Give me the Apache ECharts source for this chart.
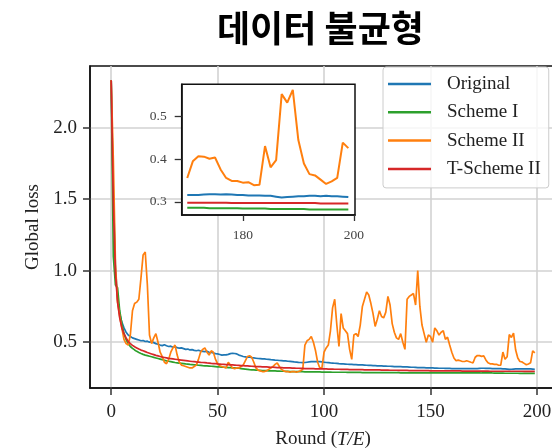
<!DOCTYPE html>
<html>
<head>
<meta charset="utf-8">
<script src="https://cdn.jsdelivr.net/npm/echarts@6/dist/echarts.min.js"></script>
<style>
  html, body { margin: 0; padding: 0; background: #fff; }
  #chart { width: 552px; height: 448px; }
</style>
</head>
<body>
<div id="chart"></div>
<script>
// Global loss per round (index = round number, 0..199)
const original = [
  2.33, 1.55, 1.02, 0.80, 0.70, 0.64, 0.60, 0.57, 0.55, 0.54,
  0.53, 0.525, 0.52, 0.515, 0.51, 0.512, 0.505, 0.507, 0.50, 0.503,
  0.497, 0.49, 0.486, 0.48, 0.476, 0.482, 0.475, 0.47, 0.472, 0.465,
  0.468, 0.462, 0.458, 0.46, 0.455, 0.45, 0.452, 0.446, 0.448, 0.443,
  0.44, 0.444, 0.438, 0.436, 0.434, 0.437, 0.43, 0.428, 0.425, 0.42,
  0.418, 0.414, 0.41, 0.412, 0.411, 0.415, 0.42, 0.423, 0.421, 0.418,
  0.41, 0.405, 0.40, 0.398, 0.395, 0.397, 0.392, 0.39, 0.388, 0.386,
  0.385, 0.383, 0.384, 0.381, 0.38, 0.378, 0.377, 0.375, 0.374, 0.372,
  0.371, 0.37, 0.369, 0.367, 0.366, 0.364, 0.362, 0.361, 0.359, 0.358,
  0.357, 0.358, 0.36, 0.362, 0.364, 0.365, 0.364, 0.365, 0.364, 0.362,
  0.36, 0.358, 0.357, 0.355, 0.354, 0.353, 0.352, 0.35, 0.349, 0.348,
  0.347, 0.346, 0.345, 0.345, 0.344, 0.343, 0.342, 0.341, 0.341, 0.34,
  0.339, 0.338, 0.338, 0.337, 0.336, 0.335, 0.335, 0.334, 0.333, 0.333,
  0.332, 0.332, 0.331, 0.33, 0.33, 0.329, 0.329, 0.328, 0.327, 0.327,
  0.326, 0.325, 0.325, 0.324, 0.323, 0.323, 0.322, 0.322, 0.321, 0.32,
  0.32, 0.32, 0.319, 0.319, 0.318, 0.318, 0.318, 0.317, 0.317, 0.317,
  0.316, 0.316, 0.316, 0.316, 0.315, 0.315, 0.315, 0.315, 0.315, 0.315,
  0.316, 0.316, 0.316, 0.317, 0.318, 0.318, 0.317, 0.318, 0.317, 0.316,
  0.316, 0.315, 0.315, 0.315, 0.314, 0.314, 0.312, 0.31, 0.311, 0.312,
  0.313, 0.313, 0.314, 0.314, 0.313, 0.314, 0.313, 0.313, 0.312, 0.311
];
const schemeI = [
  2.33, 1.10, 0.90, 0.88, 0.72, 0.63, 0.56, 0.52, 0.49, 0.47,
  0.457, 0.446, 0.436, 0.428, 0.421, 0.415, 0.41, 0.406, 0.402, 0.398,
  0.394, 0.39, 0.386, 0.382, 0.378, 0.374, 0.37, 0.367, 0.364, 0.361,
  0.358, 0.356, 0.354, 0.352, 0.35, 0.348, 0.347, 0.345, 0.344, 0.342,
  0.341, 0.339, 0.338, 0.336, 0.335, 0.334, 0.333, 0.332, 0.331, 0.33,
  0.328, 0.327, 0.326, 0.325, 0.324, 0.323, 0.322, 0.321, 0.32, 0.319,
  0.318, 0.316, 0.314, 0.312, 0.31, 0.308, 0.307, 0.306, 0.305, 0.304,
  0.303, 0.302, 0.302, 0.301, 0.3, 0.3, 0.299, 0.299, 0.298, 0.298,
  0.297, 0.297, 0.296, 0.296, 0.295, 0.295, 0.295, 0.294, 0.294, 0.294,
  0.294, 0.293, 0.293, 0.293, 0.293, 0.292, 0.292, 0.292, 0.292, 0.291,
  0.291, 0.291, 0.291, 0.291, 0.29, 0.29, 0.29, 0.29, 0.29, 0.29,
  0.29, 0.289, 0.289, 0.289, 0.289, 0.289, 0.289, 0.289, 0.288, 0.288,
  0.288, 0.288, 0.288, 0.288, 0.288, 0.288, 0.287, 0.287, 0.287, 0.287,
  0.287, 0.287, 0.287, 0.287, 0.287, 0.287, 0.286, 0.286, 0.286, 0.286,
  0.286, 0.286, 0.286, 0.286, 0.286, 0.286, 0.286, 0.286, 0.286, 0.286,
  0.286, 0.286, 0.286, 0.286, 0.286, 0.286, 0.286, 0.286, 0.286, 0.286,
  0.286, 0.286, 0.286, 0.286, 0.286, 0.286, 0.286, 0.286, 0.286, 0.286,
  0.286, 0.286, 0.286, 0.286, 0.285, 0.285, 0.285, 0.285, 0.285, 0.285,
  0.284, 0.284, 0.284, 0.284, 0.284, 0.283, 0.283, 0.283, 0.283, 0.283,
  0.283, 0.283, 0.282, 0.282, 0.282, 0.282, 0.282, 0.282, 0.282, 0.282
];
const schemeII = [
  2.33, 1.78, 1.05, 0.78, 0.68, 0.60, 0.52, 0.49, 0.48, 0.55,
  0.72, 0.77, 0.78, 0.80, 0.95, 1.11, 1.13, 0.90, 0.55, 0.49,
  0.53, 0.56, 0.50, 0.43, 0.40, 0.36, 0.35, 0.38, 0.43, 0.46,
  0.48, 0.41, 0.36, 0.34, 0.335, 0.33, 0.325, 0.32, 0.32, 0.33,
  0.34, 0.38, 0.43, 0.45, 0.46, 0.43, 0.41, 0.44, 0.43, 0.38,
  0.35, 0.335, 0.33, 0.325, 0.32, 0.36, 0.34, 0.32, 0.315, 0.32,
  0.32, 0.33, 0.34, 0.37, 0.40, 0.405, 0.395, 0.36, 0.32, 0.305,
  0.30, 0.295, 0.295, 0.30, 0.31, 0.32, 0.33, 0.345, 0.355, 0.33,
  0.31, 0.30, 0.295, 0.295, 0.29, 0.295, 0.295, 0.29, 0.295, 0.30,
  0.31, 0.48, 0.51, 0.52, 0.54, 0.50, 0.44, 0.36, 0.32, 0.32,
  0.43, 0.46, 0.48, 0.58, 0.74, 0.80, 0.62, 0.47, 0.70, 0.60,
  0.58, 0.56, 0.45, 0.38, 0.55, 0.56, 0.54, 0.62, 0.75, 0.80,
  0.85, 0.83, 0.77, 0.70, 0.61, 0.66, 0.72, 0.68, 0.67, 0.71,
  0.82, 0.76, 0.63, 0.57, 0.53, 0.52, 0.56, 0.50, 0.45, 0.80,
  0.82, 0.83, 0.84, 0.76, 1.00, 0.75, 0.62, 0.56, 0.50, 0.55,
  0.54, 0.50, 0.60, 0.58, 0.55, 0.57, 0.58, 0.52, 0.535, 0.48,
  0.43, 0.39, 0.37, 0.375, 0.37, 0.365, 0.365, 0.37, 0.365, 0.36,
  0.356, 0.395, 0.407, 0.406, 0.401, 0.404, 0.376, 0.356, 0.349, 0.349,
  0.345, 0.346, 0.339, 0.340, 0.431, 0.381, 0.398, 0.553, 0.533, 0.563,
  0.445, 0.390, 0.365, 0.362, 0.352, 0.342, 0.348, 0.356, 0.439, 0.426
];
const tSchemeII = [
  2.33, 1.48, 0.98, 0.78, 0.67, 0.60, 0.56, 0.53, 0.505, 0.49,
  0.478, 0.468, 0.46, 0.452, 0.445, 0.44, 0.434, 0.428, 0.423, 0.418,
  0.413, 0.408, 0.404, 0.40, 0.396, 0.393, 0.39, 0.387, 0.385, 0.383,
  0.381, 0.379, 0.377, 0.375, 0.373, 0.371, 0.369, 0.367, 0.365, 0.364,
  0.362, 0.361, 0.359, 0.358, 0.357, 0.355, 0.354, 0.352, 0.351, 0.35,
  0.348, 0.347, 0.346, 0.345, 0.344, 0.343, 0.342, 0.341, 0.34, 0.339,
  0.338, 0.337, 0.336, 0.335, 0.334, 0.333, 0.332, 0.331, 0.33, 0.33,
  0.329, 0.328, 0.327, 0.327, 0.326, 0.325, 0.325, 0.324, 0.323, 0.323,
  0.322, 0.321, 0.321, 0.32, 0.32, 0.319, 0.319, 0.318, 0.318, 0.317,
  0.317, 0.316, 0.316, 0.316, 0.315, 0.315, 0.314, 0.314, 0.314, 0.313,
  0.313, 0.313, 0.312, 0.312, 0.312, 0.311, 0.311, 0.311, 0.31, 0.31,
  0.31, 0.31, 0.309, 0.309, 0.309, 0.308, 0.308, 0.308, 0.308, 0.307,
  0.307, 0.307, 0.307, 0.306, 0.306, 0.306, 0.306, 0.305, 0.305, 0.305,
  0.305, 0.304, 0.304, 0.304, 0.304, 0.303, 0.303, 0.303, 0.303, 0.303,
  0.302, 0.302, 0.302, 0.302, 0.302, 0.301, 0.301, 0.301, 0.301, 0.301,
  0.3, 0.3, 0.3, 0.3, 0.3, 0.3, 0.3, 0.299, 0.299, 0.299,
  0.299, 0.299, 0.299, 0.299, 0.299, 0.298, 0.298, 0.298, 0.298, 0.298,
  0.298, 0.298, 0.298, 0.298, 0.298, 0.298, 0.298, 0.298, 0.297, 0.297,
  0.297, 0.297, 0.297, 0.297, 0.297, 0.297, 0.297, 0.297, 0.297, 0.297,
  0.297, 0.297, 0.297, 0.297, 0.296, 0.296, 0.296, 0.296, 0.296, 0.296
];

const seriesNames = ['Original', 'Scheme I', 'Scheme II', 'T-Scheme II'];
const seriesColors = ['#1f77b4', '#2ca02c', '#ff7f0e', '#d62728'];
const seriesValues = [original, schemeI, schemeII, tSchemeII];

const xTicks = [0, 50, 100, 150, 200];
const yTicks = [0.5, 1.0, 1.5, 2.0];
const insetXTicks = [180, 200];
const insetYTicks = [0.3, 0.4, 0.5];
const insetFirstRound = 170;

const titleText = '데이터 불균형';

const serif = "'Liberation Serif', 'Times New Roman', serif";
const textColor = '#222';

const toPairs = (arr, from) =>
  arr.map((v, i) => [i, v]).filter(p => p[0] >= (from || 0));

const mainSeries = seriesValues.map((vals, k) => ({
  name: seriesNames[k],
  type: 'line',
  xAxisIndex: 0,
  yAxisIndex: 0,
  data: toPairs(vals),
  showSymbol: false,
  symbol: 'none',
  lineStyle: { color: seriesColors[k], width: 1.7 },
  itemStyle: { color: seriesColors[k] },
  z: 2
}));

const insetSeries = seriesValues.map((vals, k) => ({
  name: seriesNames[k],
  type: 'line',
  xAxisIndex: 1,
  yAxisIndex: 1,
  data: toPairs(vals, insetFirstRound),
  showSymbol: false,
  symbol: 'none',
  lineStyle: { color: seriesColors[k], width: 2 },
  itemStyle: { color: seriesColors[k] },
  z: 7
}));

const chart = echarts.init(document.getElementById('chart'), null, { renderer: 'canvas' });

chart.setOption({
  animation: false,
  backgroundColor: '#fff',
  graphic: [{
    type: 'text',
    left: 217,
    top: 10,
    style: {
      text: titleText,
      fontFamily: "'Noto Sans CJK KR', sans-serif",
      fontSize: 36,
      fontWeight: 'bold',
      fill: '#000'
    }
  }],
  legend: {
    data: seriesNames,
    orient: 'vertical',
    left: 383,
    top: 67,
    padding: [7, 8, 9, 5],
    itemGap: 8.3,
    itemWidth: 43,
    itemHeight: 2.5,
    icon: 'rect',
    backgroundColor: 'rgba(255,255,255,0.8)',
    borderColor: '#cccccc',
    borderWidth: 1,
    borderRadius: 3,
    textStyle: {
      fontFamily: serif,
      fontSize: 19,
      lineHeight: 20,
      color: textColor,
      padding: [0, 0, 0, 11]
    },
    z: 8
  },
  grid: [
    {
      left: 90, top: 66, width: 466, height: 322,
      show: true, borderColor: '#111', borderWidth: 1.5,
      backgroundColor: 'transparent', containLabel: false,
      outerBoundsMode: 'none', z: 0
    },
    {
      left: 181.7, top: 84.3, width: 173.3, height: 130.7,
      show: true, borderColor: '#111', borderWidth: 1.5,
      backgroundColor: '#fff', containLabel: false,
      outerBoundsMode: 'none', z: 5
    }
  ],
  xAxis: [
    {
      type: 'value', gridIndex: 0,
      min: -9.95, max: 208.95,
      name: '{n|Round (}{i|T/E}{n|)}',
      nameLocation: 'middle',
      nameGap: 42,
      nameTextStyle: {
        rich: {
          n: { fontFamily: serif, fontSize: 19, color: textColor },
          i: { fontFamily: serif, fontSize: 19, fontStyle: 'italic', color: textColor }
        }
      },
      axisLine: { show: true, onZero: false, lineStyle: { color: '#111', width: 1.5 } },
      axisTick: { show: true, length: 7, customValues: xTicks, lineStyle: { color: '#333', width: 1.5 } },
      axisLabel: { customValues: xTicks, margin: 15, fontFamily: serif, fontSize: 19, color: textColor },
      splitLine: { show: true, lineStyle: { color: '#d2d2d2', width: 1.6 } }
    },
    {
      type: 'value', gridIndex: 1,
      min: 169.0, max: 200.2,
      axisLine: { show: true, onZero: false, lineStyle: { color: '#111', width: 1.5 } },
      axisTick: { show: true, length: 6, customValues: insetXTicks, lineStyle: { color: '#333', width: 1.3 } },
      axisLabel: { customValues: insetXTicks, margin: 13, fontFamily: serif, fontSize: 13.5, color: '#444' },
      splitLine: { show: false },
      z: 6
    }
  ],
  yAxis: [
    {
      type: 'value', gridIndex: 0,
      min: 0.18, max: 2.43,
      name: 'Global loss',
      nameLocation: 'middle',
      nameGap: 47,
      nameTextStyle: { fontFamily: serif, fontSize: 19, color: textColor },
      axisLine: { show: true, onZero: false, lineStyle: { color: '#111', width: 1.5 } },
      axisTick: { show: true, length: 7, customValues: yTicks, lineStyle: { color: '#333', width: 1.5 } },
      axisLabel: {
        customValues: yTicks, margin: 13, fontFamily: serif, fontSize: 19, color: textColor,
        formatter: v => v.toFixed(1)
      },
      splitLine: { show: true, lineStyle: { color: '#d2d2d2', width: 1.6 } }
    },
    {
      type: 'value', gridIndex: 1,
      min: 0.269, max: 0.576,
      axisLine: { show: true, onZero: false, lineStyle: { color: '#111', width: 1.5 } },
      axisTick: { show: true, length: 7, customValues: insetYTicks, lineStyle: { color: '#333', width: 1.3 } },
      axisLabel: {
        customValues: insetYTicks, margin: 15, fontFamily: serif, fontSize: 13.5, color: '#444',
        formatter: v => v.toFixed(1)
      },
      splitLine: { show: false },
      z: 6
    }
  ],
  series: mainSeries.concat(insetSeries)
});
</script>
</body>
</html>
